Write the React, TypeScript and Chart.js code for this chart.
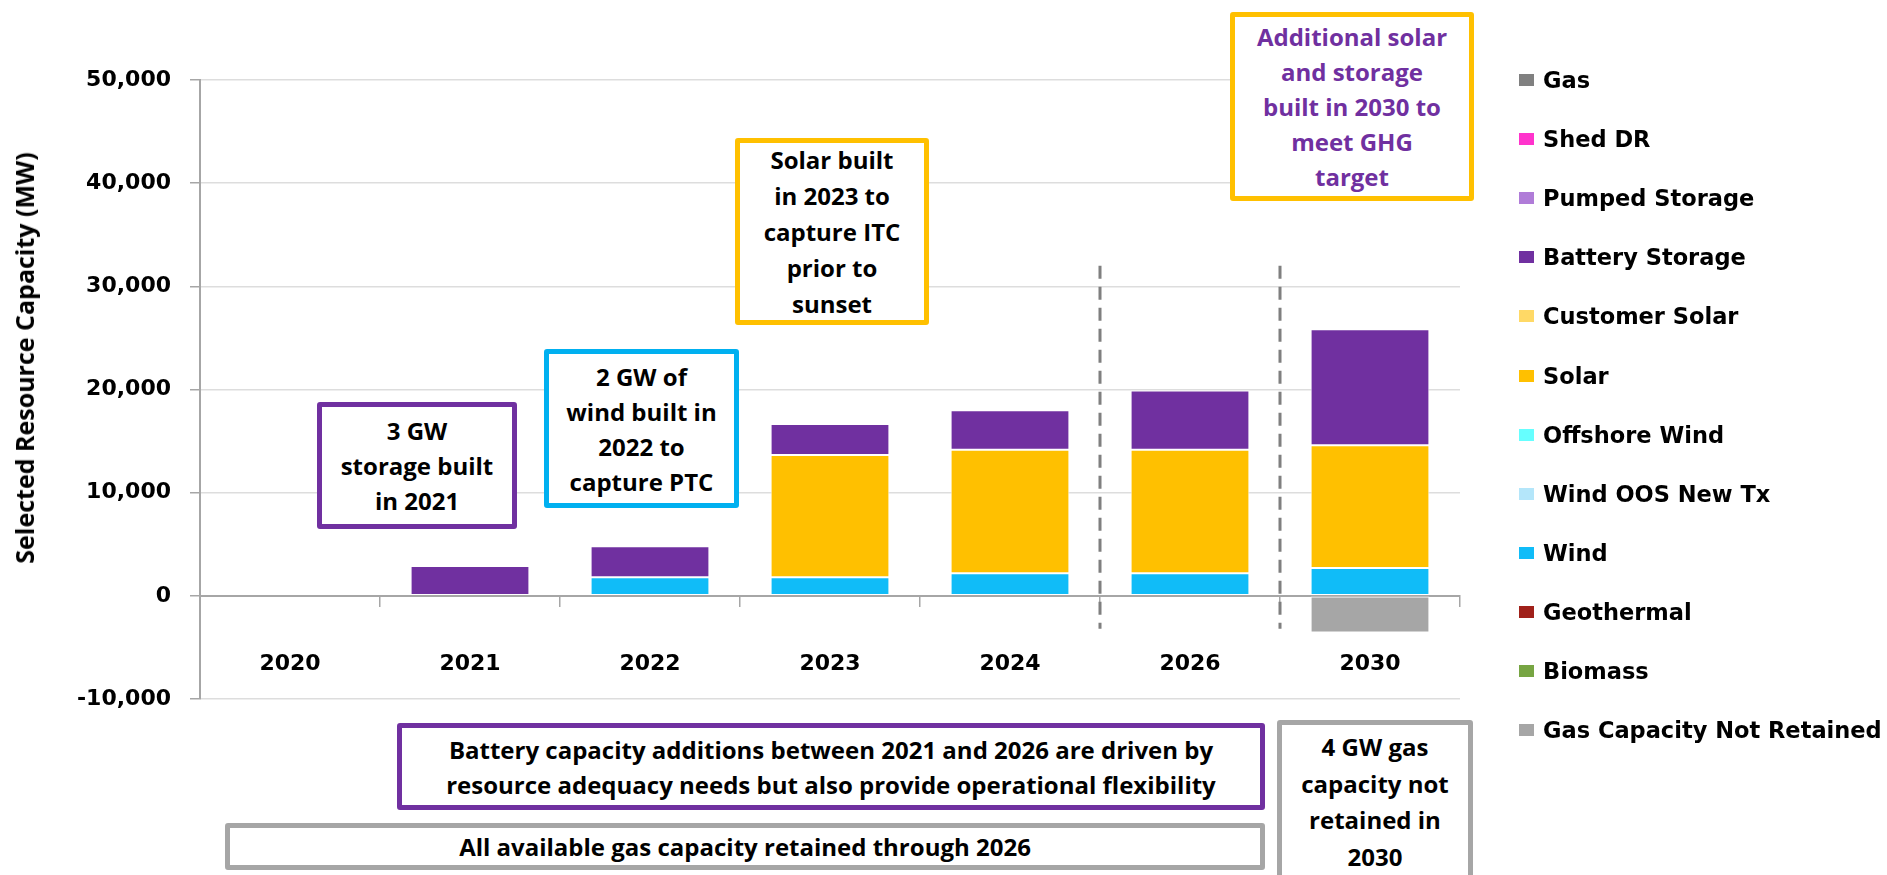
import React, { useEffect, useRef } from 'react';
import { Chart, registerables } from 'chart.js';

Chart.register(...registerables);

// ---------- data ----------
const categories = ['2020', '2021', '2022', '2023', '2024', '2026', '2030'];

const gasNotRetained = [0, 0, 0, 0, 0, 0, -3550];
const biomass = [0, 0, 0, 0, 0, 0, 0];
const geothermal = [0, 0, 0, 0, 0, 0, 0];
const wind = [0, 0, 1800, 1800, 2200, 2200, 2700];
const windOOSNewTx = [0, 0, 0, 0, 0, 0, 0];
const offshoreWind = [0, 0, 0, 0, 0, 0, 0];
const solar = [0, 0, 0, 11850, 11950, 11950, 11900];
const customerSolar = [0, 0, 0, 0, 0, 0, 0];
const batteryStorage = [0, 2900, 3000, 3000, 3850, 5750, 11250];
const pumpedStorage = [0, 0, 0, 0, 0, 0, 0];
const shedDR = [0, 0, 0, 0, 0, 0, 0];
const gas = [0, 0, 0, 0, 0, 0, 0];

const yMin = -10000;
const yMax = 50000;
const yStep = 10000;

// dashed separators sit on the category boundaries after these indices
const dividerAfter = [4, 5];
const dividerRange = [-3200, 32000];

// series, bottom of stack first
const series = [
  { label: 'Gas Capacity Not Retained', data: gasNotRetained, color: '#A6A6A6' },
  { label: 'Biomass', data: biomass, color: '#77A543' },
  { label: 'Geothermal', data: geothermal, color: '#A0211A' },
  { label: 'Wind', data: wind, color: '#10BCF8' },
  { label: 'Wind OOS New Tx', data: windOOSNewTx, color: '#B4E6FA' },
  { label: 'Offshore Wind', data: offshoreWind, color: '#66FFFF' },
  { label: 'Solar', data: solar, color: '#FFC000' },
  { label: 'Customer Solar', data: customerSolar, color: '#FFD966' },
  { label: 'Battery Storage', data: batteryStorage, color: '#7030A0' },
  { label: 'Pumped Storage', data: pumpedStorage, color: '#B07CD8' },
  { label: 'Shed DR', data: shedDR, color: '#FF33CC' },
  { label: 'Gas', data: gas, color: '#808080' },
];

const tickFont = { family: 'DejaVu Sans', size: 22, weight: 'bold' as const };

const dividerPlugin = {
  id: 'dividers',
  afterDatasetsDraw(chart: any) {
    const x = chart.scales.x;
    const y = chart.scales.y;
    const ctx = chart.ctx;
    ctx.save();
    ctx.strokeStyle = '#7F7F7F';
    ctx.lineWidth = 3;
    ctx.setLineDash([13, 8]);
    dividerAfter.forEach((i) => {
      const px = (x.getPixelForValue(i) + x.getPixelForValue(i + 1)) / 2;
      ctx.beginPath();
      ctx.moveTo(px, y.getPixelForValue(dividerRange[1]));
      ctx.lineTo(px, y.getPixelForValue(dividerRange[0]));
      ctx.stroke();
    });
    ctx.restore();
  },
};

const boxBase: React.CSSProperties = {
  position: 'absolute',
  boxSizing: 'border-box',
  background: '#fff',
  display: 'flex',
  alignItems: 'center',
  justifyContent: 'center',
  textAlign: 'center',
  fontFamily: '"Open Sans", sans-serif',
  fontWeight: 700,
  fontSize: 24,
  lineHeight: '35px',
  color: '#000',
  borderRadius: 3,
};

export default function App() {
  const canvasRef = useRef<HTMLCanvasElement | null>(null);

  useEffect(() => {
    if (!canvasRef.current) return;
    const chart = new Chart(canvasRef.current, {
      type: 'bar',
      data: {
        labels: categories,
        datasets: series.map((s) => ({
          label: s.label,
          data: s.data,
          backgroundColor: s.color,
          borderColor: '#FFFFFF',
          borderWidth: 1,
          borderSkipped: false,
          barPercentage: 0.66,
          categoryPercentage: 1,
        })),
      },
      options: {
        responsive: false,
        animation: false,
        layout: { padding: { left: 0, top: 80, right: 427, bottom: 176 } },
        plugins: {
          legend: { display: false },
          tooltip: { enabled: false },
        },
        scales: {
          x: {
            stacked: true,
            position: { y: 0 } as any,
            grid: {
              display: true,
              drawOnChartArea: false,
              drawTicks: true,
              tickLength: 10,
              color: '#A6A6A6',
              lineWidth: 1.5,
              offset: true,
            },
            border: { display: true, color: '#A6A6A6', width: 2 },
            ticks: {
              font: tickFont,
              color: '#000',
              padding: 45,
              maxRotation: 0,
              autoSkip: false,
            },
          },
          y: {
            stacked: true,
            min: yMin,
            max: yMax,
            afterFit: (scale: any) => {
              scale.width = 200;
            },
            ticks: {
              stepSize: yStep,
              font: tickFont,
              color: '#000',
              padding: 19,
              callback: (v: any) => Number(v).toLocaleString('en-US'),
            },
            grid: {
              color: (c: any) => (c.tick && c.tick.value === 0 ? 'rgba(0,0,0,0)' : '#DDDDDD'),
              tickColor: '#A6A6A6',
              tickLength: 10,
              lineWidth: 1.5,
            },
            border: { display: true, color: '#A6A6A6', width: 2 },
          },
        },
      },
      plugins: [dividerPlugin],
    });
    return () => chart.destroy();
  }, []);

  const legendItems = [...series].reverse();

  return (
    <div
      style={{
        position: 'fixed',
        left: 0,
        top: 0,
        width: 1887,
        height: 875,
        background: '#fff',
        overflow: 'hidden',
      }}
    >
      <canvas
        ref={canvasRef}
        width={1887}
        height={875}
        style={{ position: 'absolute', left: 0, top: 0, width: 1887, height: 875 }}
      />

      {/* y axis title */}
      <div
        style={{
          position: 'absolute',
          left: 24,
          top: 358,
          transform: 'translate(-50%, -50%) rotate(-90deg)',
          whiteSpace: 'nowrap',
          fontFamily: '"Open Sans", sans-serif',
          fontWeight: 700,
          fontSize: 25,
          color: '#000',
        }}
      >
        Selected Resource Capacity (MW)
      </div>

      {/* legend */}
      {legendItems.map((s, i) => {
        const cy = 80 + i * 59.1;
        return (
          <React.Fragment key={s.label}>
            <div
              style={{
                position: 'absolute',
                left: 1519,
                top: cy - 6,
                width: 15,
                height: 12,
                background: s.color,
              }}
            />
            <div
              style={{
                position: 'absolute',
                left: 1543,
                top: cy - 15,
                height: 30,
                lineHeight: '30px',
                whiteSpace: 'nowrap',
                fontFamily: '"DejaVu Sans", sans-serif',
                fontWeight: 700,
                fontSize: 22.5,
                color: '#000',
              }}
            >
              {s.label}
            </div>
          </React.Fragment>
        );
      })}

      {/* annotations */}
      <div style={{ ...boxBase, left: 317, top: 402, width: 200, height: 127, border: '5px solid #7030A0' }}>
        <div>3 GW<br />storage built<br />in 2021</div>
      </div>
      <div style={{ ...boxBase, left: 544, top: 349, width: 195, height: 159, border: '5px solid #00B0F0' }}>
        <div>2 GW of<br />wind built in<br />2022 to<br />capture PTC</div>
      </div>
      <div style={{ ...boxBase, left: 735, top: 138, width: 194, height: 187, lineHeight: '36px', border: '5px solid #FFC000' }}>
        <div>Solar built<br />in 2023 to<br />capture ITC<br />prior to<br />sunset</div>
      </div>
      <div style={{ ...boxBase, left: 1230, top: 12, width: 244, height: 189, color: '#7030A0', border: '5px solid #FFC000' }}>
        <div>Additional solar<br />and storage<br />built in 2030 to<br />meet GHG<br />target</div>
      </div>
      <div style={{ ...boxBase, left: 397, top: 723, width: 868, height: 87, border: '5px solid #7030A0' }}>
        <div>
          Battery capacity additions between 2021 and 2026 are driven by<br />
          resource adequacy needs but also provide operational flexibility
        </div>
      </div>
      <div style={{ ...boxBase, left: 225, top: 823, width: 1040, height: 47, border: '5px solid #A6A6A6' }}>
        <div>All available gas capacity retained through 2026</div>
      </div>
      <div
        style={{
          ...boxBase,
          left: 1277,
          top: 720,
          width: 196,
          height: 170,
          alignItems: 'flex-start',
          paddingTop: 4,
          lineHeight: '36.5px',
          border: '5px solid #A6A6A6',
        }}
      >
        <div>4 GW gas<br />capacity not<br />retained in<br />2030</div>
      </div>
    </div>
  );
}
